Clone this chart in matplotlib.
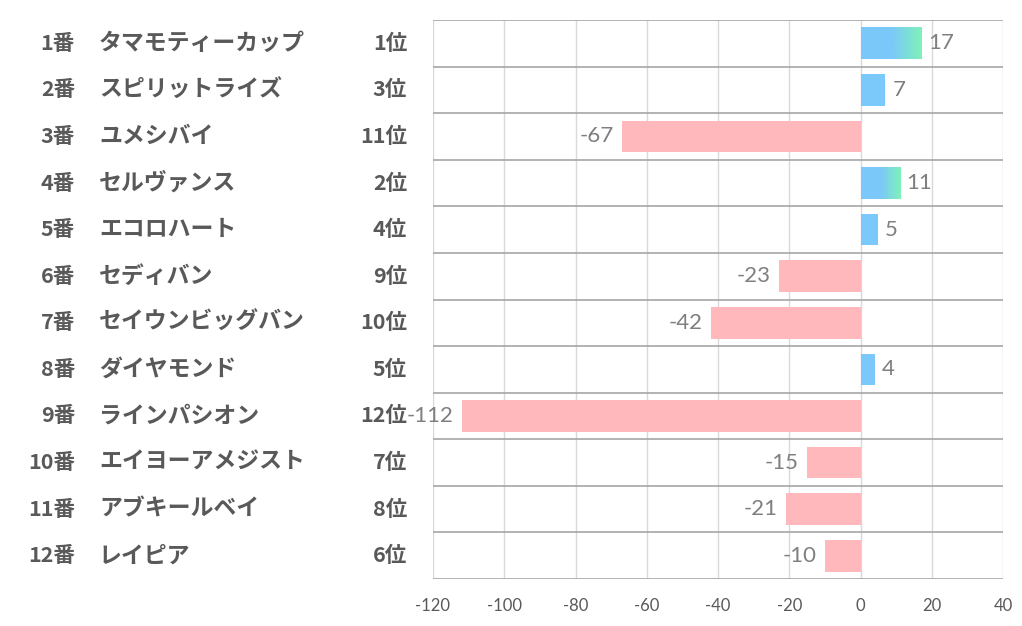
import numpy as np
import matplotlib
matplotlib.use("Agg")
import matplotlib.pyplot as plt
import matplotlib.transforms as mtransforms
from matplotlib.colors import LinearSegmentedColormap

plt.rcParams['font.family'] = ['Noto Sans CJK JP', 'DejaVu Sans']

# data
numbers = ['1番', '2番', '3番', '4番', '5番', '6番', '7番', '8番', '9番', '10番', '11番', '12番']
names = ['タマモティーカップ', 'スピリットライズ', 'ユメシバイ', 'セルヴァンス', 'エコロハート', 'セディバン',
         'セイウンビッグバン', 'ダイヤモンド', 'ラインパシオン', 'エイヨーアメジスト', 'アブキールベイ', 'レイピア']
ranks = ['1位', '3位', '11位', '2位', '4位', '9位', '10位', '5位', '12位', '7位', '8位', '6位']
values = [17, 7, -67, 11, 5, -23, -42, 4, -112, -15, -21, -10]
x_ticks = [-120, -100, -80, -60, -40, -20, 0, 20, 40]

BLUE = '#7BC8FA'
GREEN = '#7EF2B9'
PINK = '#FFB9BC'
TEXT = '#595959'
VALUE_TEXT = '#7F7F7F'
BAR_H = 0.68

W, H = 1022, 626
fig = plt.figure(figsize=(W / 100, H / 100), dpi=100)
ax = fig.add_axes([433 / W, 1 - 579 / H, 570 / W, 559 / H])

grad_cmap = LinearSegmentedColormap.from_list('bg', [(0, BLUE), (0.5, BLUE), (1, GREEN)])
gradient = np.linspace(0, 1, 256).reshape(1, -1)

for i, (v, r) in enumerate(zip(values, ranks)):
    if v < 0:
        ax.barh(i, v, height=BAR_H, color=PINK, zorder=2)
    elif r in ('1位', '2位'):
        # top two ranks get a blue -> green gradient fill
        ax.imshow(gradient, cmap=grad_cmap, aspect='auto', interpolation='bilinear',
                  extent=(0, v, i + BAR_H / 2, i - BAR_H / 2), zorder=2)
    else:
        ax.barh(i, v, height=BAR_H, color=BLUE, zorder=2)

    if v >= 0:
        ax.annotate(str(v), (v, i), xytext=(5, 0), textcoords='offset points',
                    ha='left', va='center', fontsize=16, color=VALUE_TEXT, family='Lato')
    else:
        ax.annotate(str(v), (v, i), xytext=(-6, 0), textcoords='offset points',
                    ha='right', va='center', fontsize=16, color=VALUE_TEXT, family='Lato')

ax.set_xlim(-120, 40)
ax.set_ylim(len(values) - 0.5, -0.5)
ax.set_xticks(x_ticks)
ax.set_xticklabels([str(t) for t in x_ticks], family='Lato')
ax.set_yticks([])
ax.tick_params(axis='x', length=0, pad=14, labelsize=12, colors=TEXT)

# grid: light verticals, darker row separators
for t in x_ticks:
    ax.axvline(t, color='#D9D9D9', lw=1, zorder=1)
for k in range(len(values) + 1):
    ax.axhline(k - 0.5, color='#A6A6A6', lw=1.2, zorder=1)
for s in ax.spines.values():
    s.set_visible(False)

# row labels on the left
trans = mtransforms.blended_transform_factory(fig.transFigure, ax.transData)
for i in range(len(values)):
    ax.text(75 / W, i, numbers[i], transform=trans, ha='right', va='center',
            fontsize=15.5, fontweight='bold', color=TEXT)
    ax.text(99 / W, i, names[i], transform=trans, ha='left', va='center',
            fontsize=16.5, fontweight='bold', color=TEXT)
    ax.text(407 / W, i, ranks[i], transform=trans, ha='right', va='center',
            fontsize=15.5, fontweight='bold', color=TEXT)

fig.savefig('out.png', dpi=100)
